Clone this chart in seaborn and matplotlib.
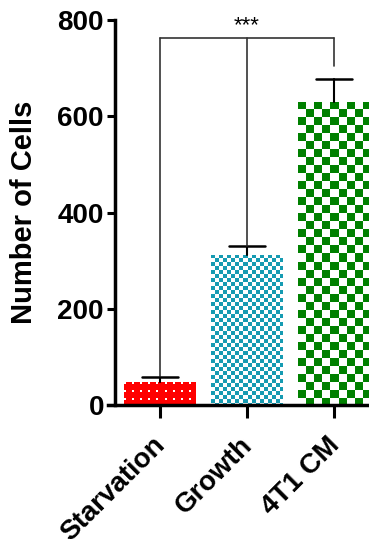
import numpy as np
import matplotlib
matplotlib.use("Agg")
import matplotlib.pyplot as plt
import matplotlib.transforms as mtrans
import seaborn as sns

groups = ["Starvation", "Growth", "4T1 CM"]
means = [47, 312, 630]
errs = [12, 18, 48]
colors = ["#ff0000", "#169bb2", "#008000"]
bracket_y = 762
bracket_drop = [60, 330, 705]

sns.set_style("ticks")
plt.rcParams["font.family"] = ["Liberation Sans", "DejaVu Sans"]
plt.rcParams["font.weight"] = "bold"
plt.rcParams["text.color"] = "black"
plt.rcParams["axes.labelcolor"] = "black"
plt.rcParams["xtick.color"] = "black"
plt.rcParams["ytick.color"] = "black"
plt.rcParams["axes.edgecolor"] = "black"

fig = plt.figure(figsize=(3.69, 5.39), dpi=100)
ax = fig.add_axes([0.3117, 0.2486, 0.6883, 0.7143])

sns.barplot(x=groups, y=means, hue=groups, palette=colors, legend=False,
            width=0.82, errorbar=None, ax=ax, linewidth=0, zorder=1)
ax.set_xlim(-0.517, 2.40)
ax.set_ylim(0, 800)
fig.canvas.draw()


def pattern(kind, wpx, hpx, rgb):
    img = np.ones((hpx, wpx, 3))
    yy, xx = np.mgrid[0:hpx, 0:wpx]
    if kind == "dots":
        img[:] = rgb
        mask = ((xx % 8) < 2) & ((yy % 8) < 2)
        img[mask] = 1
    else:
        cell = 4 if kind == "small" else 8
        mask = ((xx // cell) + (yy // cell)) % 2 == 0
        img[mask] = rgb
    return img


kinds = ["dots", "small", "big"]
for p, kind, c in zip(ax.patches, kinds, colors):
    bb = p.get_window_extent()
    wpx, hpx = int(round(bb.width)), int(round(bb.height))
    rgb = matplotlib.colors.to_rgb(c)
    img = pattern(kind, max(wpx, 1), max(hpx, 1), rgb)
    x0, y0 = p.get_x(), p.get_y()
    im = ax.imshow(img, extent=[x0, x0 + p.get_width(), y0, y0 + p.get_height()],
                   origin="upper", aspect="auto", interpolation="nearest", zorder=2)
    im.set_clip_path(p)
    p.set_facecolor("white")

# upper error bars only, cap half bar width
for i, (m, e) in enumerate(zip(means, errs)):
    ax.plot([i, i], [m, m + e], color="black", lw=1.5, zorder=3)
    ax.plot([i - 0.21, i + 0.21], [m + e, m + e], color="black", lw=1.8, zorder=3)

# significance bracket
ax.plot([0, 2], [bracket_y, bracket_y], color="0.2", lw=1.2, zorder=3)
for i, d in enumerate(bracket_drop):
    ax.plot([i, i], [d, bracket_y], color="0.2", lw=1.2, zorder=3)
ax.text(1, bracket_y + 5, "***", ha="center", va="bottom", fontsize=16,
        fontweight="normal")

ax.set_yticks([0, 200, 400, 600, 800])
ax.set_ylabel("Number of Cells", fontsize=21, fontweight="bold", labelpad=14)
ax.set_xlabel("")
ax.tick_params(axis="both", width=2.2, length=6, labelsize=20, pad=2)
ax.tick_params(axis="x", length=9, pad=4)
ax.set_xticks(range(3))
ax.set_xticklabels(groups, rotation=45, ha="right", rotation_mode="anchor",
                   fontsize=20, fontweight="bold")
shift = mtrans.ScaledTranslation(-8 / 100, -9 / 100, fig.dpi_scale_trans)
for lab in ax.get_xticklabels():
    lab.set_transform(lab.get_transform() + shift)
for lab in ax.get_yticklabels():
    lab.set_fontweight("bold")
sns.despine(ax=ax)
ax.spines["left"].set_linewidth(2.5)
ax.spines["bottom"].set_linewidth(2.5)
ax.spines["bottom"].set_bounds(-0.6, 2.40)

fig.savefig("out.png", dpi=100)
